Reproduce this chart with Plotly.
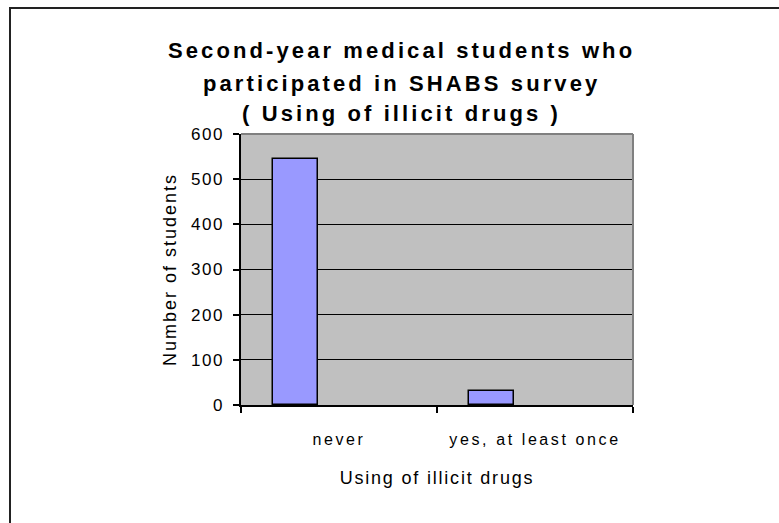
import plotly.graph_objects as go

# ---- data ----
categories = ["never", "yes, at least once"]
students = [545, 31]
y_ticks = [0, 100, 200, 300, 400, 500, 600]
title_lines = ["Second-year medical students who", "participated in SHABS survey", "( Using of illicit drugs )"]
x_title = "Using of illicit drugs"
y_title = "Number of students"

W, H = 779, 523
L, R, T, B = 241, 633, 134, 405  # plot area in px

FONT = "Arial, Liberation Sans, sans-serif"

def sp(txt, ls):
    return f'<span style="letter-spacing:{ls}px">{txt}</span>'

def py(ypx):
    return (B - ypx) / (B - T)

def px(xpx):
    return (xpx - L) / (R - L)

fig = go.Figure()
fig.add_trace(go.Bar(
    x=categories, y=students,
    width=0.228, offset=-0.337,
    marker=dict(color="#9999FF", line=dict(color="black", width=1.5)),
    showlegend=False,
))

annotations = []
title_y = [50, 83, 114]
for line, yy in zip(title_lines, title_y):
    annotations.append(dict(
        text=sp(f"<b>{line}</b>", 3.1), x=px(401), y=py(yy), xref="paper", yref="paper",
        xanchor="center", yanchor="middle", showarrow=False,
        font=dict(family=FONT, size=22, color="black"),
    ))

shapes = [
    # plot area top & right border (gray)
    dict(type="line", xref="paper", yref="paper", x0=0, x1=1, y0=1, y1=1,
         line=dict(color="#808080", width=2), layer="above"),
    dict(type="line", xref="paper", yref="paper", x0=1, x1=1, y0=0, y1=1,
         line=dict(color="#808080", width=2), layer="above"),
    # outer chart border
    dict(type="rect", xref="paper", yref="paper",
         x0=px(10), x1=px(800), y0=py(540), y1=py(8),
         line=dict(color="#222222", width=2), fillcolor="rgba(0,0,0,0)", layer="above"),
]

fig.update_layout(
    width=W, height=H,
    margin=dict(l=L, r=W - R, t=T, b=H - B, pad=0),
    paper_bgcolor="white", plot_bgcolor="#C0C0C0",
    font=dict(family=FONT, size=14, color="black"),
    annotations=annotations, shapes=shapes,
    bargap=0,
)
fig.update_xaxes(
    type="category", range=[-0.5, 1.5],
    tickson="boundaries", ticks="outside", ticklen=6, tickcolor="black", tickwidth=1.5,
    showline=True, linecolor="black", linewidth=1.5, showgrid=False,
    tickvals=categories, ticktext=[sp(c, 2.6) for c in categories],
    ticklabelstandoff=19,
    tickfont=dict(family=FONT, size=16, color="black"),
    title=dict(text=sp(x_title, 1.8), font=dict(family=FONT, size=18, color="black"), standoff=24),
)
fig.update_yaxes(
    range=[0, 600], tickvals=y_ticks, ticktext=[sp(str(v), 1.5) for v in y_ticks],
    ticks="outside", ticklen=6, tickcolor="black", tickwidth=1.5,
    showline=True, linecolor="black", linewidth=1.5,
    showgrid=True, gridcolor="black", gridwidth=1, zeroline=False,
    ticklabelstandoff=6,
    tickfont=dict(family=FONT, size=17, color="black"),
    title=dict(text=sp(y_title, 2), font=dict(family=FONT, size=18, color="black"), standoff=10),
)

fig.write_html("out.html")
